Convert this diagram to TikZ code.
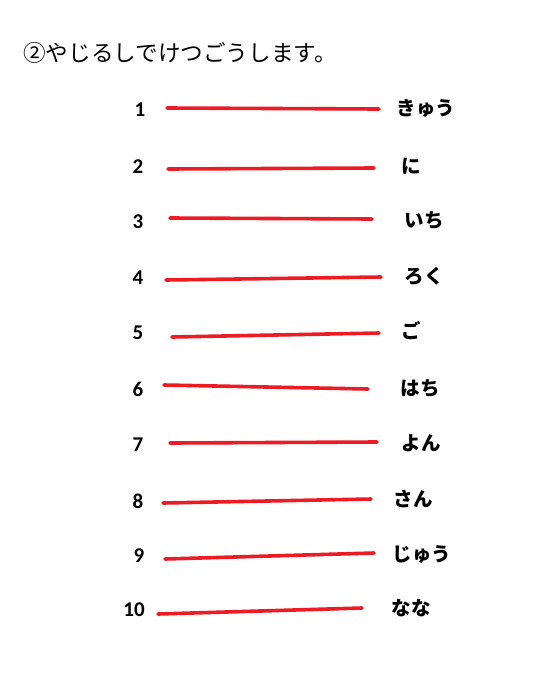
\documentclass[tikz,border=0pt]{standalone}
\usepackage{fontspec}
\setmainfont{Carlito}
\newfontfamily\cjk{Noto Sans CJK JP}
\usetikzlibrary{positioning}
\definecolor{penred}{RGB}{237,28,36}

\begin{document}
\begin{tikzpicture}[x=1pt, y=-1pt,
                num/.style={font=\fontsize{21}{21}\selectfont\bfseries, anchor=center},
                ans/.style={font=\cjk\fontsize{19.5}{19.5}\selectfont\bfseries, anchor=west},
                pen/.style={draw=penred, line width=3.6pt, line cap=round}]
                
                \useasboundingbox (0,0) rectangle (551,683);
                
                \node[font=\cjk\fontsize{22.6}{22.6}\selectfont, anchor=west, inner sep=0pt] (title) at (23,53) {②やじるしでけつごうします。};
                
                % number / left end / right end / answer
                \foreach \n/\xn/\yn/\xa/\ya/\xb/\yb/\lx/\ly/\txt in {
                    1/140/110/167/108/379/109/393/108/きゅう,
                    2/138/167/168/169/374/168/398/166/に,
                    3/138/222/170/218/372/219/401/220/いち,
                    4/138/278/166/280/381/277/401/276/ろく,
                    5/138/333/172/337/379/333/398/331/ご,
                    6/138/389/164/385/368/389/397/388/はち,
                    7/138/445/170/443/377/442/398/443/よん,
                    8/138/501/163/503/371/499/390/499/さん,
                    9/139/556/165/559/374/553/389/554/じゅう,
                    10/134/610/158/614/362/608/388/608/なな} {
                    \node[num] (num\n) at (\xn,\yn) {\n};
                    \coordinate (s\n) at (\xa,\ya);
                    \coordinate (e\n) at (\xb,\yb);
                    \draw[pen] (s\n) -- (e\n);
                    \node[ans] (ans\n) at (\lx,\ly) {\txt};
                }
            \end{tikzpicture}
\end{document}
